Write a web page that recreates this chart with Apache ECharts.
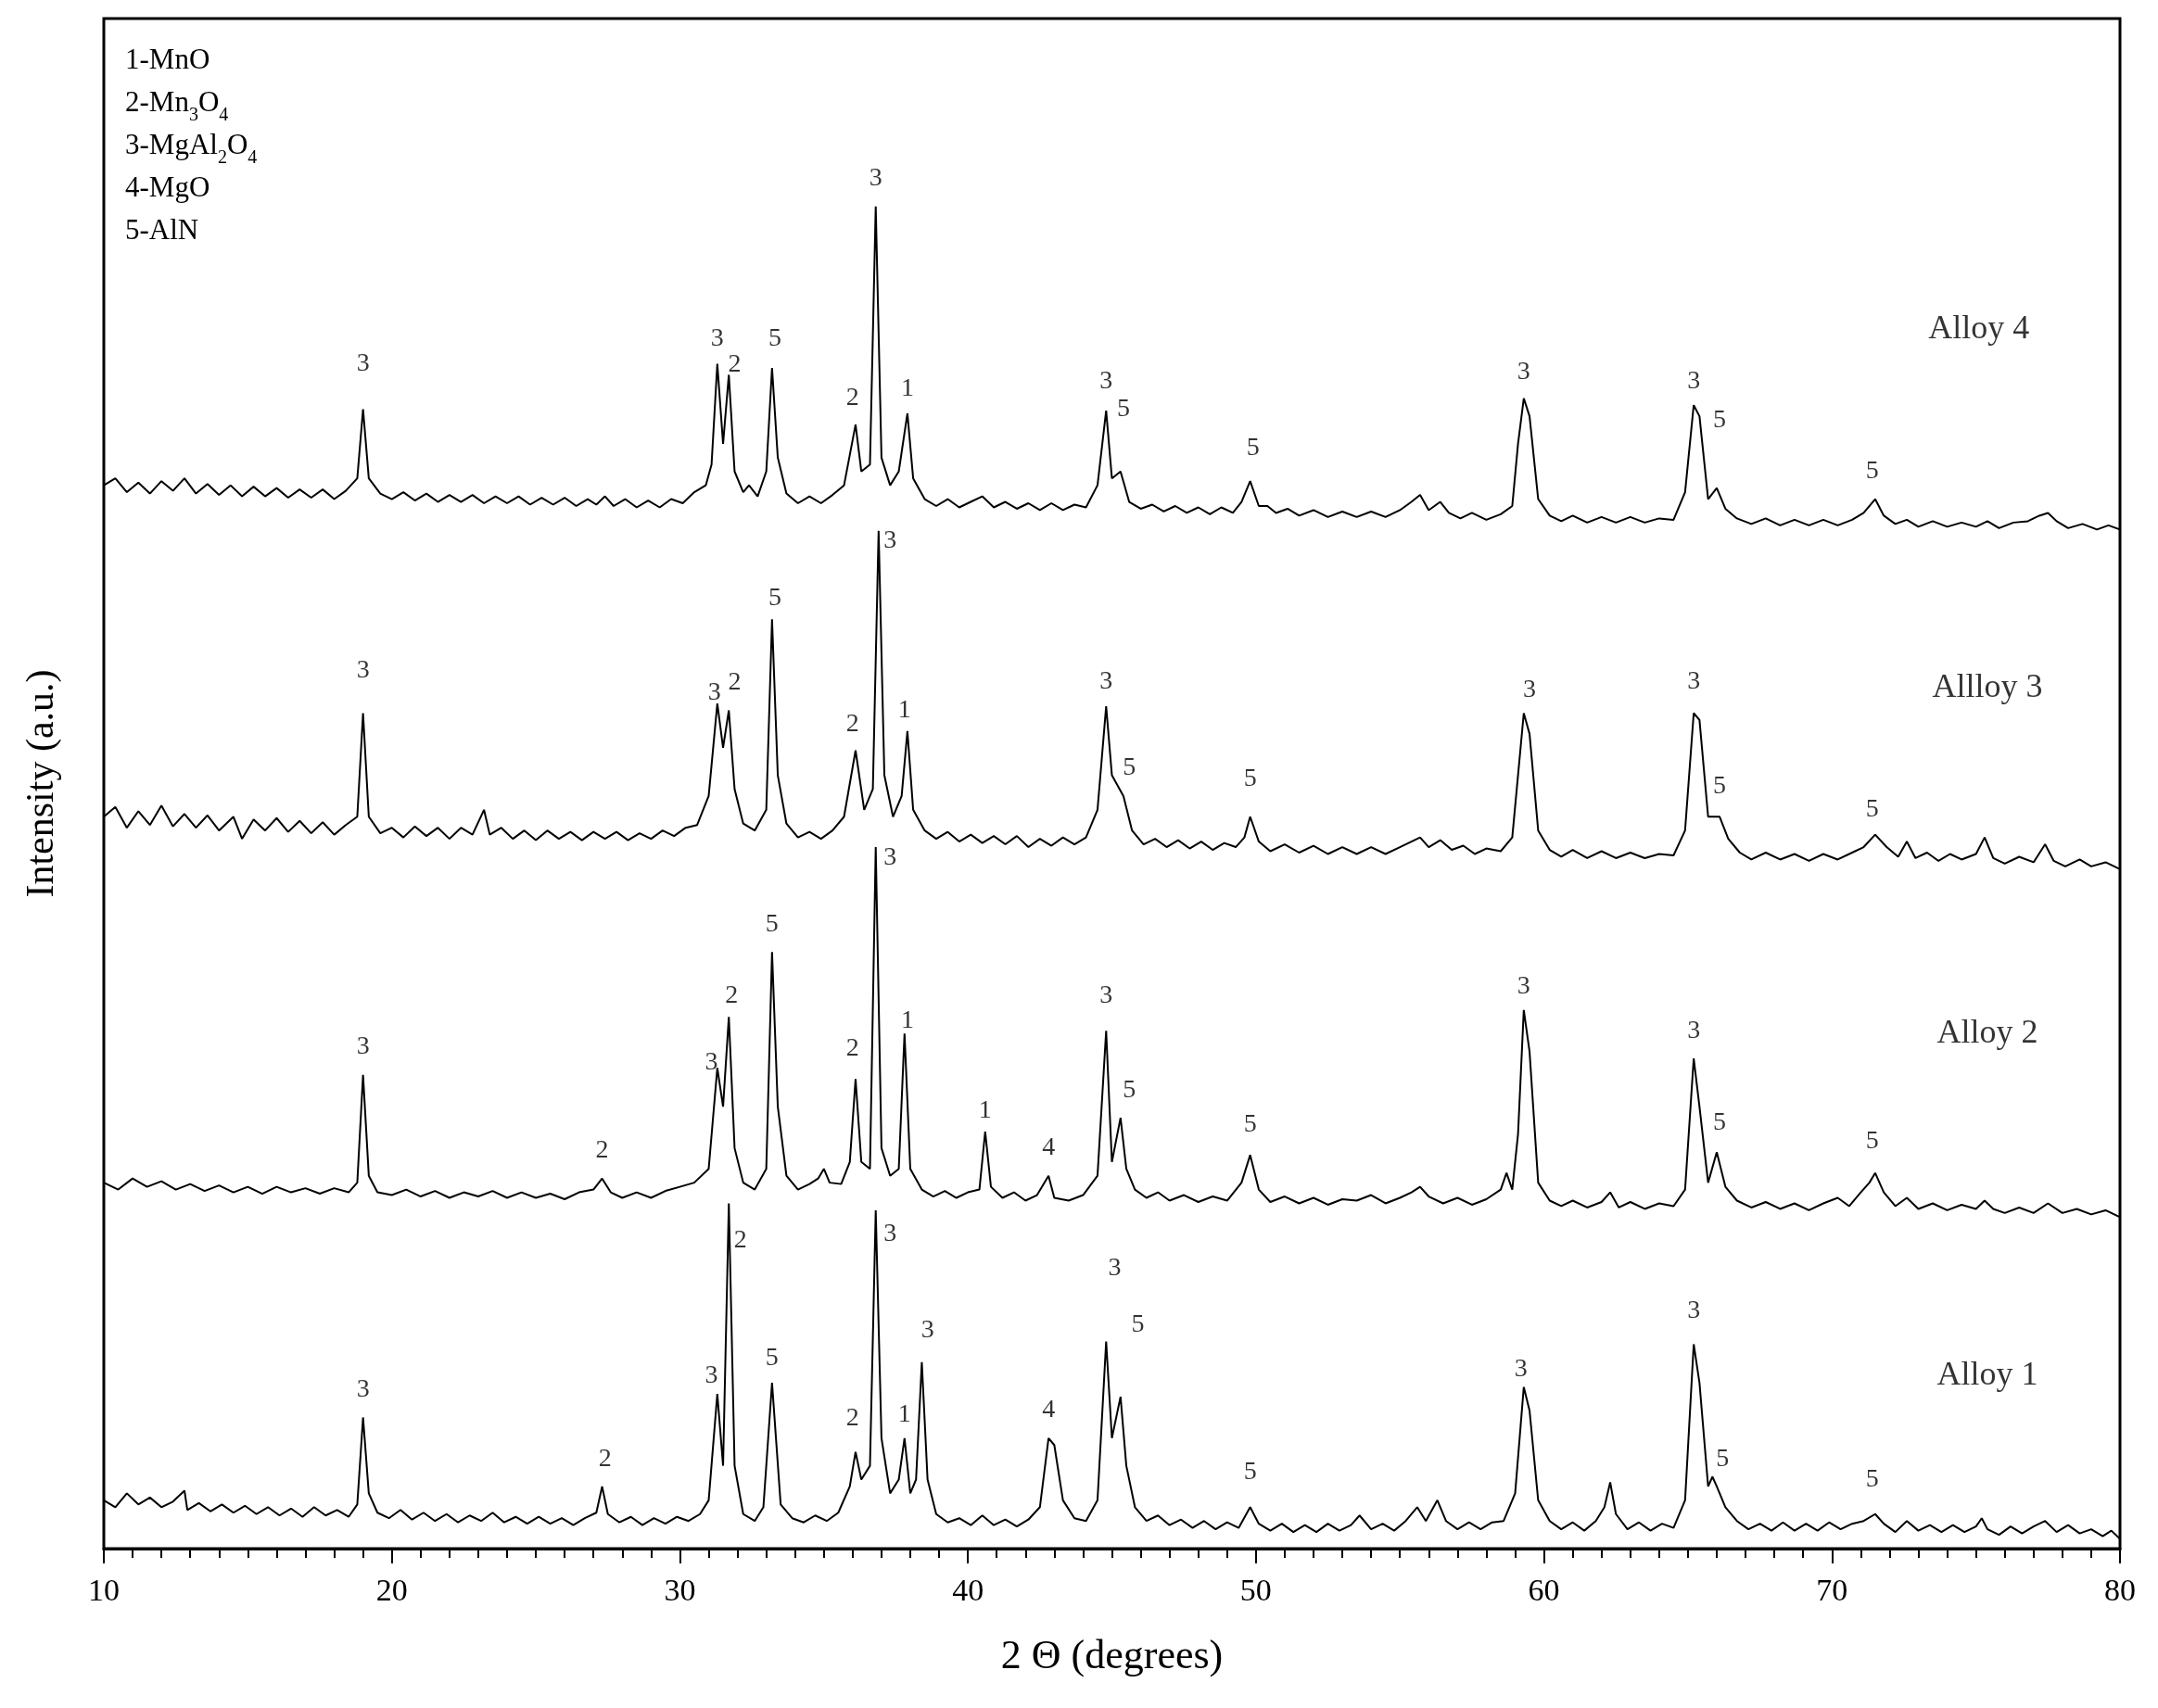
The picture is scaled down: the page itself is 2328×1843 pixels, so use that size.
<!DOCTYPE html>
<html>
<head>
<meta charset="utf-8">
<script src="https://cdn.jsdelivr.net/npm/echarts@6/dist/echarts.min.js"></script>
<style>html,body{margin:0;padding:0;background:#fff}#chart{width:2328px;height:1843px}</style>
</head>
<body>
<div id="chart"></div>
<script>
// y values are vertical positions (larger = lower), axis is inverted
const alloy1 = [[10,1085],[10.4,1090],[10.8,1080],[11.2,1088],[11.6,1083],[12,1090],[12.4,1086],[12.8,1078],[12.9,1092],[13.3,1087],[13.7,1093],[14.1,1088],[14.5,1094],[14.9,1089],[15.3,1095],[15.7,1090],[16.1,1096],[16.5,1091],[16.9,1097],[17.3,1090],[17.7,1096],[18.1,1092],[18.5,1097],[18.8,1088],[19.0,1025],[19.2,1080],[19.5,1094],[19.9,1098],[20.3,1092],[20.7,1099],[21.1,1094],[21.5,1100],[21.9,1095],[22.3,1101],[22.7,1096],[23.1,1100],[23.5,1094],[23.9,1101],[24.3,1097],[24.7,1102],[25.1,1097],[25.5,1102],[25.9,1098],[26.3,1103],[26.7,1098],[27.1,1094],[27.3,1075],[27.5,1095],[27.9,1101],[28.3,1097],[28.7,1103],[29.1,1098],[29.5,1102],[29.9,1097],[30.3,1100],[30.7,1095],[31.0,1085],[31.3,1008],[31.5,1060],[31.7,870],[31.9,1060],[32.2,1095],[32.6,1100],[32.9,1090],[33.2,1000],[33.5,1088],[33.9,1098],[34.3,1101],[34.7,1096],[35.1,1100],[35.5,1094],[35.9,1075],[36.1,1050],[36.3,1070],[36.6,1060],[36.8,875],[37.0,1040],[37.3,1080],[37.6,1070],[37.8,1040],[38.0,1080],[38.2,1070],[38.4,985],[38.6,1070],[38.9,1095],[39.3,1101],[39.7,1098],[40.1,1103],[40.5,1096],[40.9,1103],[41.3,1099],[41.7,1104],[42.1,1099],[42.5,1090],[42.8,1040],[43.0,1045],[43.3,1085],[43.7,1098],[44.1,1100],[44.5,1085],[44.8,970],[45.0,1040],[45.3,1010],[45.5,1060],[45.8,1090],[46.2,1100],[46.6,1096],[47.0,1103],[47.4,1099],[47.8,1105],[48.2,1100],[48.6,1106],[49.0,1101],[49.4,1105],[49.8,1090],[50.1,1102],[50.5,1107],[50.9,1102],[51.3,1108],[51.7,1103],[52.1,1108],[52.5,1102],[52.9,1107],[53.3,1103],[53.6,1096],[54.0,1106],[54.4,1102],[54.8,1107],[55.2,1100],[55.6,1090],[55.9,1100],[56.3,1085],[56.6,1100],[57.0,1106],[57.4,1101],[57.8,1106],[58.2,1101],[58.6,1100],[59.0,1080],[59.3,1003],[59.5,1020],[59.8,1085],[60.2,1100],[60.6,1106],[61.0,1101],[61.4,1107],[61.8,1100],[62.1,1090],[62.3,1072],[62.5,1095],[62.9,1106],[63.3,1101],[63.7,1107],[64.1,1102],[64.5,1105],[64.9,1085],[65.2,972],[65.4,1000],[65.7,1075],[65.85,1068],[66.0,1075],[66.3,1090],[66.7,1100],[67.1,1106],[67.5,1102],[67.9,1107],[68.3,1101],[68.7,1107],[69.1,1102],[69.5,1107],[69.9,1101],[70.3,1106],[70.7,1102],[71.1,1100],[71.5,1095],[71.8,1102],[72.2,1108],[72.6,1100],[73.0,1107],[73.4,1103],[73.8,1108],[74.2,1103],[74.6,1108],[75.0,1104],[75.2,1098],[75.4,1106],[75.8,1110],[76.2,1104],[76.6,1109],[77.0,1104],[77.4,1100],[77.8,1108],[78.2,1103],[78.6,1109],[79.0,1106],[79.4,1111],[79.7,1107],[80,1113]];

const alloy2 = [[10,855],[10.5,860],[11,852],[11.5,858],[12,854],[12.5,860],[13,856],[13.5,861],[14,857],[14.5,862],[15,858],[15.5,863],[16,858],[16.5,862],[17,859],[17.5,863],[18,859],[18.5,862],[18.8,855],[19.0,777],[19.2,850],[19.5,862],[20,864],[20.5,860],[21,865],[21.5,861],[22,866],[22.5,862],[23,865],[23.5,861],[24,866],[24.5,862],[25,866],[25.5,863],[26,867],[26.5,862],[27.0,860],[27.3,852],[27.6,862],[28,866],[28.5,862],[29,866],[29.5,861],[30,858],[30.5,855],[31.0,845],[31.3,772],[31.5,800],[31.7,735],[31.9,830],[32.2,855],[32.6,860],[33.0,845],[33.2,688],[33.4,800],[33.7,850],[34.1,860],[34.5,856],[34.8,852],[35.0,845],[35.2,855],[35.6,856],[35.9,840],[36.1,780],[36.3,840],[36.6,845],[36.8,612],[37.0,830],[37.3,850],[37.6,845],[37.8,747],[38.0,845],[38.4,860],[38.8,865],[39.2,861],[39.6,866],[40.0,862],[40.4,860],[40.6,818],[40.8,858],[41.2,866],[41.6,862],[42.0,868],[42.4,864],[42.8,850],[43.0,866],[43.5,868],[44.0,864],[44.5,850],[44.8,745],[45.0,840],[45.3,808],[45.5,845],[45.8,860],[46.2,866],[46.6,862],[47.0,868],[47.5,864],[48,869],[48.5,865],[49.0,868],[49.5,855],[49.8,835],[50.1,860],[50.5,869],[51,865],[51.5,870],[52,866],[52.5,871],[53,867],[53.5,868],[54,864],[54.5,870],[55,866],[55.4,862],[55.7,858],[56.0,865],[56.5,870],[57,866],[57.5,871],[58,867],[58.5,860],[58.7,848],[58.9,860],[59.1,820],[59.3,730],[59.5,760],[59.8,855],[60.2,868],[60.6,872],[61,868],[61.5,873],[62,869],[62.3,862],[62.6,873],[63,869],[63.5,874],[64,870],[64.5,872],[64.9,860],[65.2,765],[65.4,800],[65.7,855],[66.0,833],[66.3,858],[66.7,868],[67.2,873],[67.7,869],[68.2,874],[68.7,870],[69.2,875],[69.7,870],[70.2,866],[70.6,872],[71.0,862],[71.3,855],[71.5,848],[71.8,862],[72.2,872],[72.6,866],[73,874],[73.5,870],[74,875],[74.5,871],[75,874],[75.3,868],[75.6,874],[76,877],[76.5,873],[77,877],[77.5,870],[78,877],[78.5,874],[79,878],[79.5,875],[80,880]];

const alloy3 = [[10,590],[10.4,583],[10.8,598],[11.2,586],[11.6,596],[12,582],[12.4,597],[12.8,588],[13.2,598],[13.6,589],[14,600],[14.5,590],[14.8,606],[15.2,592],[15.6,600],[16,591],[16.4,601],[16.8,593],[17.2,602],[17.6,594],[18,603],[18.4,596],[18.8,590],[19.0,515],[19.2,590],[19.6,602],[20,598],[20.4,605],[20.8,597],[21.2,604],[21.6,598],[22,606],[22.4,598],[22.8,603],[23.2,585],[23.4,603],[23.8,598],[24.2,606],[24.6,600],[25,607],[25.4,600],[25.8,606],[26.2,601],[26.6,607],[27,601],[27.4,606],[27.8,601],[28.2,607],[28.6,602],[29,606],[29.4,600],[29.8,604],[30.2,598],[30.6,596],[31.0,575],[31.3,508],[31.5,540],[31.7,513],[31.9,570],[32.2,595],[32.6,600],[33.0,585],[33.2,447],[33.4,560],[33.7,595],[34.1,605],[34.5,601],[34.9,606],[35.3,600],[35.7,590],[36.1,542],[36.4,585],[36.7,570],[36.9,383],[37.1,560],[37.4,590],[37.7,575],[37.9,528],[38.1,585],[38.5,600],[38.9,606],[39.3,601],[39.7,608],[40.1,603],[40.5,609],[40.9,604],[41.3,610],[41.7,604],[42.1,612],[42.5,606],[42.9,611],[43.3,605],[43.7,610],[44.1,605],[44.5,585],[44.8,510],[45.0,560],[45.4,575],[45.7,600],[46.1,610],[46.5,606],[46.9,612],[47.3,607],[47.7,613],[48.1,608],[48.5,614],[48.9,609],[49.3,612],[49.6,605],[49.8,590],[50.1,608],[50.5,615],[51,610],[51.5,616],[52,611],[52.5,617],[53,612],[53.5,617],[54,612],[54.5,617],[55,612],[55.4,608],[55.7,605],[56.0,612],[56.4,607],[56.8,614],[57.2,611],[57.6,617],[58,613],[58.5,615],[58.9,605],[59.1,560],[59.3,515],[59.5,530],[59.8,600],[60.2,614],[60.6,619],[61,614],[61.5,620],[62,615],[62.5,620],[63,616],[63.5,620],[64,617],[64.5,618],[64.9,600],[65.2,515],[65.4,520],[65.7,590],[66.1,590],[66.4,606],[66.8,616],[67.2,621],[67.7,616],[68.2,621],[68.7,617],[69.2,622],[69.7,617],[70.2,621],[70.7,616],[71.1,612],[71.5,603],[71.9,612],[72.3,619],[72.6,608],[72.9,620],[73.3,616],[73.7,622],[74.1,617],[74.5,621],[75.0,617],[75.3,605],[75.6,620],[76,624],[76.5,619],[77,623],[77.4,610],[77.7,622],[78.1,626],[78.6,621],[79,626],[79.5,623],[80,628]];

const alloy4 = [[10,350],[10.4,345],[10.8,355],[11.2,348],[11.6,356],[12,347],[12.4,354],[12.8,345],[13.2,356],[13.6,349],[14,357],[14.4,350],[14.8,358],[15.2,351],[15.6,358],[16,352],[16.4,359],[16.8,353],[17.2,359],[17.6,353],[18,360],[18.4,354],[18.8,345],[19.0,295],[19.2,345],[19.6,356],[20,360],[20.4,355],[20.8,361],[21.2,356],[21.6,362],[22,357],[22.4,362],[22.8,357],[23.2,363],[23.6,358],[24,363],[24.4,358],[24.8,364],[25.2,359],[25.6,364],[26,359],[26.4,365],[26.8,360],[27.1,364],[27.4,358],[27.7,365],[28.1,360],[28.5,366],[28.9,361],[29.3,366],[29.7,360],[30.1,363],[30.5,355],[30.9,350],[31.1,335],[31.3,262],[31.5,320],[31.7,270],[31.9,340],[32.2,355],[32.4,350],[32.7,358],[33.0,340],[33.2,265],[33.4,330],[33.7,356],[34.1,363],[34.5,358],[34.9,363],[35.3,357],[35.7,350],[36.1,306],[36.3,340],[36.6,335],[36.8,148],[37.0,330],[37.3,350],[37.6,340],[37.9,298],[38.1,345],[38.5,360],[38.9,365],[39.3,360],[39.7,366],[40.1,362],[40.5,358],[40.9,366],[41.3,362],[41.7,367],[42.1,363],[42.5,368],[42.9,363],[43.3,368],[43.7,364],[44.1,366],[44.5,350],[44.8,296],[45.0,345],[45.3,340],[45.6,362],[46,367],[46.4,364],[46.8,369],[47.2,365],[47.6,370],[48,366],[48.4,371],[48.8,366],[49.2,370],[49.5,362],[49.8,347],[50.1,365],[50.4,365],[50.7,370],[51.1,367],[51.5,372],[52,368],[52.5,373],[53,369],[53.5,373],[54,369],[54.5,373],[55,368],[55.4,362],[55.7,357],[56.0,368],[56.4,362],[56.7,370],[57.1,374],[57.5,370],[58,375],[58.5,371],[58.9,365],[59.1,320],[59.3,287],[59.5,300],[59.8,360],[60.2,372],[60.6,376],[61,372],[61.5,377],[62,373],[62.5,377],[63,373],[63.5,377],[64,374],[64.5,375],[64.9,355],[65.2,292],[65.4,300],[65.7,360],[66.0,352],[66.3,367],[66.7,374],[67.2,378],[67.7,374],[68.2,379],[68.7,375],[69.2,379],[69.7,375],[70.2,379],[70.7,375],[71.1,370],[71.5,360],[71.8,372],[72.2,378],[72.6,375],[73,380],[73.5,376],[74,380],[74.5,377],[75,380],[75.4,376],[75.8,381],[76.3,377],[76.8,376],[77.2,372],[77.5,370],[77.8,376],[78.2,381],[78.7,378],[79.2,382],[79.6,379],[80,382]];

// peak labels: [2theta, position, phase]
const peaks4 = [[19.0,262,'3'],[31.3,244,'3'],[31.9,263,'2'],[33.3,244,'5'],[36.0,287,'2'],[36.8,128,'3'],[37.9,280,'1'],[44.8,275,'3'],[45.4,295,'5'],[49.9,323,'5'],[59.3,268,'3'],[65.2,275,'3'],[66.1,303,'5'],[71.4,340,'5']];
const peaks3 = [[19.0,484,'3'],[31.2,500,'3'],[31.9,493,'2'],[33.3,432,'5'],[36.0,523,'2'],[37.3,390,'3'],[37.8,513,'1'],[44.8,492,'3'],[45.6,555,'5'],[49.8,563,'5'],[59.5,498,'3'],[65.2,492,'3'],[66.1,568,'5'],[71.4,585,'5']];
const peaks2 = [[19.0,757,'3'],[27.3,832,'2'],[31.1,768,'3'],[31.8,720,'2'],[33.2,668,'5'],[36.0,758,'2'],[37.3,620,'3'],[37.9,738,'1'],[40.6,803,'1'],[42.8,830,'4'],[44.8,720,'3'],[45.6,788,'5'],[49.8,813,'5'],[59.3,713,'3'],[65.2,745,'3'],[66.1,812,'5'],[71.4,825,'5']];
const peaks1 = [[19.0,1005,'3'],[27.4,1055,'2'],[31.1,995,'3'],[32.1,897,'2'],[33.2,982,'5'],[36.0,1026,'2'],[37.3,892,'3'],[37.8,1023,'1'],[38.6,962,'3'],[42.8,1020,'4'],[45.1,917,'3'],[45.9,958,'5'],[49.8,1065,'5'],[59.2,990,'3'],[65.2,948,'3'],[66.2,1055,'5'],[71.4,1070,'5']];
const sampleNames = [[75.1,237,'Alloy 4'],[75.4,497,'Allloy 3'],[75.4,747,'Alloy 2'],[75.4,995,'Alloy 1']];

const font = 'Liberation Serif';
const chart = echarts.init(document.getElementById('chart'));

function lineSeries(data) {
  return {type: 'line', data, symbol: 'none', silent: true,
    lineStyle: {color: '#000', width: 2}};
}
function textSeries(data, size) {
  return {type: 'scatter', data, symbolSize: 1, silent: true,
    itemStyle: {color: 'rgba(0,0,0,0)'},
    label: {show: true, position: 'inside', formatter: p => p.value[2],
      color: '#000', textBorderWidth: 0, fontFamily: font, fontSize: size}};
}

chart.setOption({
  animation: false,
  grid: {left: 112, right: 41, top: 20, bottom: 172, show: true,
    borderColor: '#000', borderWidth: 3},
  xAxis: {type: 'value', min: 10, max: 80, interval: 10,
    name: '2 Θ (degrees)', nameLocation: 'middle', nameGap: 95,
    nameTextStyle: {fontFamily: font, fontSize: 44, color: '#000'},
    axisLine: {lineStyle: {color: '#000', width: 3}},
    axisTick: {inside: false, length: 16, lineStyle: {color: '#000', width: 2}},
    minorTick: {show: true, splitNumber: 10, length: 10, lineStyle: {color: '#000', width: 2}},
    axisLabel: {fontFamily: font, fontSize: 34, color: '#000', margin: 30},
    splitLine: {show: false}},
  yAxis: {type: 'value', inverse: true, min: 12, max: 1120,
    name: 'Intensity (a.u.)', nameLocation: 'middle', nameGap: 45,
    nameTextStyle: {fontFamily: font, fontSize: 42, color: '#000'},
    axisLine: {show: false}, axisTick: {show: false},
    axisLabel: {show: false}, splitLine: {show: false}},
  graphic: [{type: 'text', left: 135, top: 50,
    style: {rich: {t: {fontFamily: font, fontSize: 31, fill: '#000', lineHeight: 46},
      s: {fontFamily: font, fontSize: 20, fill: '#000', lineHeight: 46, verticalAlign: 'bottom', padding: [14, 0, 0, 0]}},
      text: '{t|1-MnO}\n{t|2-Mn}{s|3}{t|O}{s|4}\n{t|3-MgAl}{s|2}{t|O}{s|4}\n{t|4-MgO}\n{t|5-AlN}'}}],
  series: [
    lineSeries(alloy1), lineSeries(alloy2), lineSeries(alloy3), lineSeries(alloy4),
    textSeries(peaks1.concat(peaks2, peaks3, peaks4), 28),
    textSeries(sampleNames, 36)
  ]
});
</script>
</body>
</html>
